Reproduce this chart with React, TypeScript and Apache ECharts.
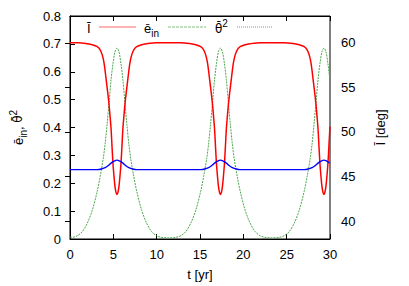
import React, { useEffect, useRef } from "react";
import * as echarts from "echarts";

const FONT = "'Liberation Sans', Arial, sans-serif";

// x tick labels (yr)
const xTicks = [0, 5, 10, 15, 20, 25, 30];
// right axis tick labels (deg)
const degTicks = [40, 45, 50, 55, 60];

// Ī [deg] vs t [yr]
const inclinationData: [number, number][] = [
  [0, 60.0], [1.0, 60.0],
  [2.0, 59.89], [2.57, 59.78], [3.14, 59.56], [3.43, 59.28], [3.71, 58.67], [3.94, 57.67], [4.17, 55.89], [4.28, 55.0], [4.39, 54.11], [4.51, 53.0], [4.62, 51.78], [4.74, 50.33], [4.85, 48.33], [4.96, 46.44], [5.08, 45.0], [5.19, 43.89], [5.31, 43.22], [5.42, 43.0],
  [5.53, 43.22], [5.65, 43.89], [5.76, 45.0], [5.88, 46.44], [5.99, 48.33], [6.1, 50.33], [6.22, 51.78], [6.33, 53.0], [6.45, 54.11], [6.56, 55.0], [6.67, 55.89], [6.9, 57.67], [7.13, 58.67], [7.41, 59.28], [7.7, 59.56], [8.27, 59.78], [8.84, 59.89],
  [10.0, 60.0], [11.4, 60.0], [12.8, 60.0],
  [13.94, 59.89], [14.51, 59.78], [15.08, 59.56], [15.37, 59.28], [15.65, 58.67], [15.88, 57.67], [16.11, 55.89], [16.22, 55.0], [16.33, 54.11], [16.45, 53.0], [16.56, 51.78], [16.68, 50.33], [16.79, 48.33], [16.9, 46.44], [17.02, 45.0], [17.13, 43.89], [17.25, 43.22], [17.36, 43.0],
  [17.47, 43.22], [17.59, 43.89], [17.7, 45.0], [17.82, 46.44], [17.93, 48.33], [18.04, 50.33], [18.16, 51.78], [18.27, 53.0], [18.39, 54.11], [18.5, 55.0], [18.61, 55.89], [18.84, 57.67], [19.07, 58.67], [19.35, 59.28], [19.64, 59.56], [20.21, 59.78], [20.78, 59.89],
  [22.0, 60.0], [23.3, 60.0], [24.7, 60.0],
  [25.88, 59.89], [26.45, 59.78], [27.02, 59.56], [27.31, 59.28], [27.59, 58.67], [27.82, 57.67], [28.05, 55.89], [28.16, 55.0], [28.27, 54.11], [28.39, 53.0], [28.5, 51.78], [28.62, 50.33], [28.73, 48.33], [28.84, 46.44], [28.96, 45.0], [29.07, 43.89], [29.19, 43.22], [29.3, 43.0],
  [29.41, 43.22], [29.53, 43.89], [29.64, 45.0], [29.76, 46.44], [29.87, 48.33], [29.98, 50.33], [30.0, 50.6],
];

// ē_in vs t [yr]
const eccentricityData: [number, number][] = [
  [0, 0.006], [0.29, 0.006], [0.86, 0.012], [1.43, 0.027], [2.0, 0.057], [2.57, 0.103], [3.14, 0.171], [3.48, 0.224], [3.83, 0.288], [4.05, 0.341], [4.28, 0.412], [4.51, 0.491], [4.74, 0.572], [4.96, 0.629], [5.19, 0.672], [5.42, 0.685],
  [5.65, 0.672], [5.88, 0.629], [6.1, 0.572], [6.33, 0.491], [6.56, 0.412], [6.79, 0.341], [7.01, 0.288], [7.36, 0.224], [7.7, 0.171], [8.27, 0.103], [8.84, 0.057], [9.41, 0.027], [9.98, 0.012], [10.55, 0.006], [11.39, 0.004],
  [12.23, 0.006], [12.8, 0.012], [13.37, 0.027], [13.94, 0.057], [14.51, 0.103], [15.08, 0.171], [15.42, 0.224], [15.77, 0.288], [15.99, 0.341], [16.22, 0.412], [16.45, 0.491], [16.68, 0.572], [16.9, 0.629], [17.13, 0.672], [17.36, 0.685],
  [17.59, 0.672], [17.82, 0.629], [18.04, 0.572], [18.27, 0.491], [18.5, 0.412], [18.73, 0.341], [18.95, 0.288], [19.3, 0.224], [19.64, 0.171], [20.21, 0.103], [20.78, 0.057], [21.35, 0.027], [21.92, 0.012], [22.49, 0.006], [23.33, 0.004],
  [24.17, 0.006], [24.74, 0.012], [25.31, 0.027], [25.88, 0.057], [26.45, 0.103], [27.02, 0.171], [27.36, 0.224], [27.71, 0.288], [27.93, 0.341], [28.16, 0.412], [28.39, 0.491], [28.62, 0.572], [28.84, 0.629], [29.07, 0.672], [29.3, 0.685],
  [29.53, 0.672], [29.76, 0.629], [29.98, 0.572], [30.0, 0.566],
];

// θ̄² vs t [yr]
const theta2Data: [number, number][] = [
  [0, 0.249], [3.14, 0.249], [3.6, 0.251], [4.05, 0.256], [4.39, 0.263], [4.74, 0.272], [5.08, 0.279], [5.42, 0.283], [5.76, 0.279], [6.1, 0.272], [6.45, 0.263], [6.79, 0.256], [7.24, 0.251], [7.7, 0.249],
  [11.4, 0.249], [15.08, 0.249], [15.54, 0.251], [15.99, 0.256], [16.33, 0.263], [16.68, 0.272], [17.02, 0.279], [17.36, 0.283], [17.7, 0.279], [18.04, 0.272], [18.39, 0.263], [18.73, 0.256], [19.18, 0.251], [19.64, 0.249],
  [23.3, 0.249], [27.02, 0.249], [27.48, 0.251], [27.93, 0.256], [28.27, 0.263], [28.62, 0.272], [28.96, 0.279], [29.3, 0.283], [29.64, 0.279], [29.98, 0.273], [30.0, 0.273],
];

const RED = "#ff0000";
const GREEN = "#4ca64c";
const BLUE = "#0000ff";

const richStyles = {
  m: { fontSize: 13, fill: "#000", color: "#000", fontFamily: FONT, lineHeight: 20 },
  t: { fontSize: 12, fill: "#000", color: "#000", fontFamily: "'DejaVu Sans', sans-serif", lineHeight: 20 },
  s: { fontSize: 10, fill: "#000", color: "#000", fontFamily: FONT, lineHeight: 10, verticalAlign: "bottom" },
  p: { fontSize: 10, fill: "#000", color: "#000", fontFamily: FONT, lineHeight: 10, verticalAlign: "top" },
};

export default function App() {
  const ref = useRef<HTMLDivElement>(null);
  useEffect(() => {
    if (!ref.current) return;
    const chart = echarts.init(ref.current, null, { renderer: "svg" });
    const axisCommon = {
      axisLine: { show: true, lineStyle: { color: "#000", width: 1 } },
      axisTick: { show: true, inside: true, length: 5, lineStyle: { color: "#000" } },
      splitLine: { show: false },
    };
    const legendY = 27;
    const legendTextY = 28.5;
    chart.setOption({
      animation: false,
      grid: { left: 67, right: 79, top: 16, bottom: 45, show: true, borderColor: "#000", borderWidth: 1 },
      graphic: [
        {
          type: "text",
          x: 87,
          y: legendTextY,
          style: { text: "{m|Ī}", rich: richStyles, verticalAlign: "middle", align: "left" },
        },
        {
          type: "line",
          shape: { x1: 99, y1: legendY, x2: 136, y2: legendY },
          style: { stroke: RED, lineWidth: 1, opacity: 0.6 },
        },
        {
          type: "text",
          x: 144,
          y: legendTextY,
          style: { text: "{m|ē}{s|in}", rich: richStyles, verticalAlign: "middle", align: "left" },
        },
        {
          type: "line",
          shape: { x1: 168, y1: legendY, x2: 206, y2: legendY },
          style: { stroke: GREEN, lineWidth: 1, lineDash: [3, 1], opacity: 0.7 },
        },
        {
          type: "text",
          x: 215,
          y: legendTextY,
          style: { text: "{t|θ\u0304}{p|2}", rich: richStyles, verticalAlign: "middle", align: "left" },
        },
        {
          type: "line",
          shape: { x1: 237, y1: legendY, x2: 273, y2: legendY },
          style: { stroke: BLUE, lineWidth: 1, lineDash: [1, 1], opacity: 0.5 },
        },
      ],
      xAxis: [
        {
          type: "value",
          position: "bottom",
          min: xTicks[0],
          max: xTicks[xTicks.length - 1],
          interval: 5,
          name: "t [yr]",
          nameLocation: "middle",
          nameGap: 29,
          nameTextStyle: { color: "#000", fontSize: 13, fontFamily: FONT },
          axisLabel: { color: "#000", fontSize: 13, fontFamily: FONT, margin: 9 },
          ...axisCommon,
        },
        {
          type: "value",
          position: "top",
          min: xTicks[0],
          max: xTicks[xTicks.length - 1],
          interval: 5,
          axisLabel: { show: false },
          ...axisCommon,
        },
      ],
      yAxis: [
        {
          type: "value",
          position: "left",
          min: 0,
          max: 0.8,
          interval: 0.1,
          name: "{m|ē}{s|in}{m|, }{t|θ\u0304}{p|2}",
          nameLocation: "middle",
          nameRotate: 90,
          nameGap: 42,
          nameTextStyle: { color: "#000", fontSize: 13, fontFamily: FONT, rich: richStyles },
          axisLabel: { color: "#000", fontSize: 13, fontFamily: FONT, margin: 9 },
          ...axisCommon,
        },
        {
          type: "value",
          position: "right",
          min: 38,
          max: 63,
          name: "Ī [deg]",
          nameLocation: "middle",
          nameRotate: 90,
          nameGap: 44,
          nameTextStyle: { color: "#000", fontSize: 13, fontFamily: FONT },
          axisLabel: { color: "#000", fontSize: 13, fontFamily: FONT, margin: 11, customValues: degTicks },
          axisLine: { show: true, lineStyle: { color: "#000", width: 1 } },
          axisTick: { show: true, inside: true, length: 5, lineStyle: { color: "#000" }, customValues: degTicks },
          splitLine: { show: false },
        },
      ],
      series: [
        {
          name: "Ī",
          type: "line",
          yAxisIndex: 1,
          data: inclinationData,
          symbol: "none",
          smooth: 0.3,
          color: RED,
          lineStyle: { color: RED, width: 1.5 },
          z: 3,
        },
        {
          name: "ē_in",
          type: "line",
          yAxisIndex: 0,
          data: eccentricityData,
          symbol: "none",
          smooth: 0.3,
          color: GREEN,
          lineStyle: { color: GREEN, width: 1, type: [2, 1] },
          z: 2,
        },
        {
          name: "θ̄²",
          type: "line",
          yAxisIndex: 0,
          data: theta2Data,
          symbol: "none",
          smooth: 0.3,
          color: BLUE,
          lineStyle: { color: BLUE, width: 1.4 },
          z: 4,
        },
      ],
    });
    return () => chart.dispose();
  }, []);
  return (
    <div
      ref={ref}
      style={{ position: "absolute", left: 0, top: 0, width: 409, height: 286, background: "#fff" }}
    />
  );
}
